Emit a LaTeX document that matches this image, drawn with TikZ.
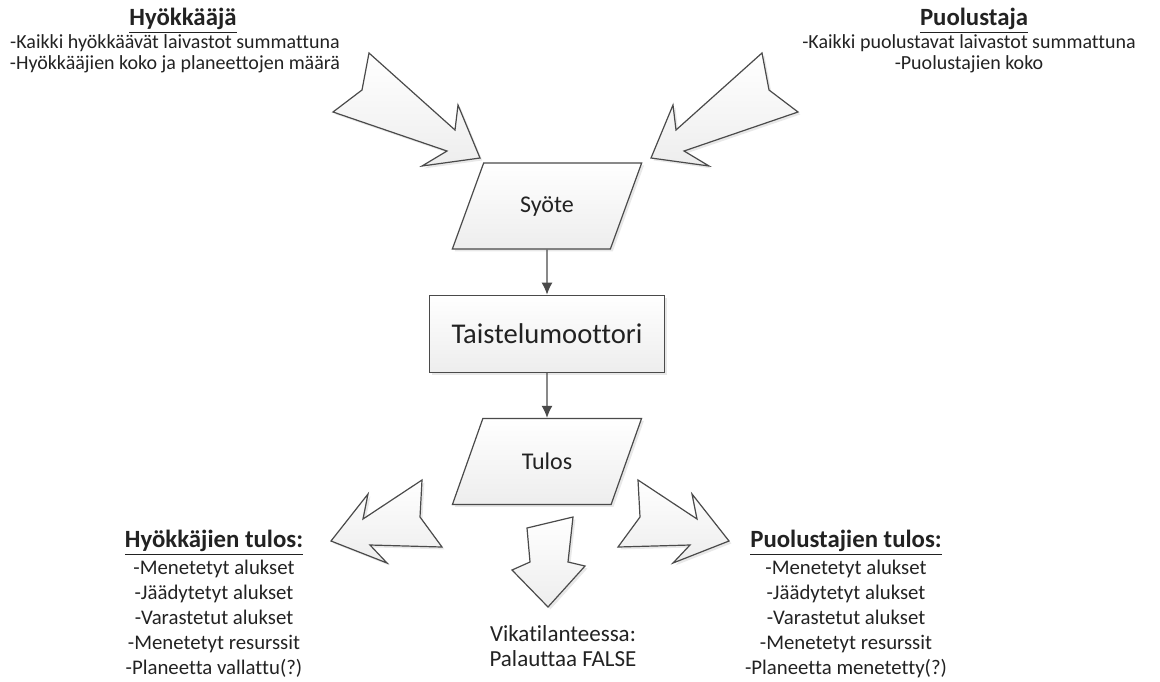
\documentclass[tikz,border=0pt]{standalone}
\usepackage{fontspec}
\setmainfont{Carlito}[Ligatures=NoCommon]
\usetikzlibrary{arrows.meta,positioning,shapes.geometric,shadows}
\definecolor{linegray}{HTML}{4A4A4A}
\definecolor{textgray}{HTML}{222222}

\begin{document}
\begin{tikzpicture}[x=0.5pt, y=-0.5pt, node distance=22.5pt,
    every node/.style={text=textgray},
    blockfill/.style={draw=linegray, line width=0.6pt, top color=white, bottom color=gray!14,
      drop shadow={opacity=0.18, shadow xshift=1.2pt, shadow yshift=-1.2pt}},
    io/.style={blockfill, trapezium, trapezium left angle=63.4, trapezium right angle=116.6,
      trapezium stretches=true, minimum width=95pt, minimum height=43pt,
      font=\fontsize{12}{14}\selectfont},
    engine/.style={blockfill, rectangle, minimum width=117.5pt, minimum height=38.5pt,
      font=\fontsize{14.3}{17}\selectfont},
    flow/.style={draw=linegray, line width=0.6pt, -{Latex[length=6pt, width=5.5pt]}},
    heading/.style={anchor=base, font=\fontsize{12.4}{14}\selectfont\bfseries},
    notes/.style={anchor=base, align=center, font=\fontsize{10}{10.75}\selectfont},
    results/.style={anchor=base, align=center, font=\fontsize{10.4}{12.4}\selectfont}]
  \useasboundingbox (0,0) rectangle (1160,681);

  % input side arrows
  \path[blockfill] (369,53) -- (362,90) -- (333,112) -- (447,151) -- (422,166)
    -- (480,158) -- (458,105) -- (455,130) -- cycle;
  \begin{scope}[xshift=282.75pt, xscale=-1, xshift=-282.75pt]
    \path[blockfill] (369,53) -- (362,90) -- (333,112) -- (447,151) -- (422,166)
      -- (480,158) -- (458,105) -- (455,130) -- cycle;
  \end{scope}

  % flow
  \node (syote) [io] at (547,206) {Syöte};
  \node (moottori) [engine, below=of syote] {Taistelumoottori};
  \node (tulos) [io, below=of moottori] {Tulos};
  \draw[flow] (syote) -- (moottori);
  \draw[flow] (moottori) -- (tulos);

  % output side arrows
  \path[blockfill] (331,541) -- (387,563) -- (370,545) -- (442,547) -- (420,517)
    -- (422,480) -- (363,519) -- (368,494) -- cycle;
  \begin{scope}[xshift=265pt, xscale=-1, xshift=-265pt]
    \path[blockfill] (331,541) -- (387,563) -- (370,545) -- (442,547) -- (420,517)
      -- (422,480) -- (363,519) -- (368,494) -- cycle;
  \end{scope}
  \path[blockfill] (527,528) -- (573,517) -- (568,562) -- (585,566) -- (548,607)
    -- (512,570) -- (530,562) -- cycle;

  % texts
  \node (hyok) [heading] at (183,25) {\underline{Hyökkääjä}};
  \node (hyokteksti) [notes] at (175,69.5)
    {-Kaikki hyökkäävät laivastot summattuna\\-Hyökkääjien koko ja planeettojen määrä};
  \node (puol) [heading] at (974,25) {\underline{Puolustaja}};
  \node (puolteksti) [notes] at (969,69.5)
    {-Kaikki puolustavat laivastot summattuna\\-Puolustajien koko};

  \node (hyoktulos) [heading] at (214,547) {\underline{Hyökkäjien tulos:}};
  \node (hyoklista) [results] at (214,674)
    {-Menetetyt alukset\\-Jäädytetyt alukset\\-Varastetut alukset\\-Menetetyt resurssit\\-Planeetta vallattu(?)};
  \node (puoltulos) [heading] at (846,547) {\underline{Puolustajien tulos:}};
  \node (puollista) [results] at (846,674)
    {-Menetetyt alukset\\-Jäädytetyt alukset\\-Varastetut alukset\\-Menetetyt resurssit\\-Planeetta menetetty(?)};
  \node (vika) [anchor=base, align=center, font=\fontsize{11.5}{12.5}\selectfont] at (563,666)
    {Vikatilanteessa:\\Palauttaa FALSE};
\end{tikzpicture}
\end{document}
